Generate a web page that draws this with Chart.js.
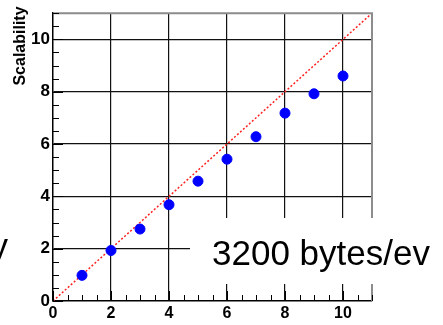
<!DOCTYPE html>
<html><head><meta charset="utf-8">
<script src="https://cdn.jsdelivr.net/npm/chart.js@4"></script>
<style>html,body{margin:0;padding:0;background:#fff}#w{width:443px;height:325px}</style>
</head><body><div id="w"><canvas id="c" width="443" height="325"></canvas></div>
<script>
const nodes = [1, 2, 3, 4, 5, 6, 7, 8, 9, 10];
const scalability = [0.98, 1.93, 2.75, 3.68, 4.58, 5.42, 6.28, 7.18, 7.92, 8.6];
const idealLine = [0, 11];
const tickLabels = [0, 2, 4, 6, 8, 10];
const axisTitle = 'Scalability';
const overlayText = '3200 bytes/ev';

const font = "'Liberation Sans', Arial, sans-serif";
const isMajor = v => tickLabels.includes(Math.round(v * 1000) / 1000);

const extras = {
  id: 'extras',
  afterDraw(chart) {
    const ctx = chart.ctx, a = chart.chartArea;
    const xs = chart.scales.x, ys = chart.scales.y;
    ctx.save();
    ctx.strokeStyle = '#8c8c8c'; ctx.lineWidth = 2;
    ctx.beginPath(); ctx.moveTo(a.left, a.top); ctx.lineTo(a.right, a.top); ctx.lineTo(a.right, a.bottom); ctx.stroke();
    ctx.strokeStyle = '#000'; ctx.lineWidth = 1;
    xs.ticks.forEach(t => {
      const px = Math.round(xs.getPixelForValue(t.value)) + 0.5;
      const len = isMajor(t.value) ? 10 : 6;
      ctx.beginPath(); ctx.moveTo(px, a.bottom); ctx.lineTo(px, a.bottom - len); ctx.stroke();
    });
    ys.ticks.forEach(t => {
      const py = Math.round(ys.getPixelForValue(t.value)) + 0.5;
      const len = isMajor(t.value) ? 10 : 6;
      ctx.beginPath(); ctx.moveTo(a.left, py); ctx.lineTo(a.left + len, py); ctx.stroke();
    });
    ctx.fillStyle = '#000';
    ctx.font = 'bold 16px ' + font;
    ctx.translate(21, 46); ctx.rotate(-Math.PI / 2);
    ctx.textAlign = 'center'; ctx.textBaseline = 'middle';
    ctx.fillText(axisTitle, 0, 0);
    ctx.restore();
    ctx.save();
    ctx.fillStyle = '#fff';
    ctx.fillRect(190, 218, 253, 66);
    ctx.fillStyle = '#000';
    ctx.font = '35px ' + font;
    ctx.textBaseline = 'alphabetic'; ctx.textAlign = 'left';
    ctx.fillText(overlayText, 212, 265);
    ctx.textAlign = 'right';
    ctx.fillText('y', 8, 258);
    ctx.restore();
  }
};

new Chart(document.getElementById('c'), {
  type: 'scatter',
  data: {
    datasets: [
      {
        data: nodes.map((n, i) => ({ x: n, y: scalability[i] })),
        backgroundColor: '#0000ff', borderColor: '#0000ff',
        pointRadius: 5, pointHoverRadius: 5, order: 1
      },
      {
        type: 'line',
        data: idealLine.map(v => ({ x: v, y: v })),
        borderColor: '#ff2020', borderWidth: 1.5, borderDash: [2, 2],
        pointRadius: 0, fill: false, order: 2
      }
    ]
  },
  options: {
    responsive: false, animation: false, events: [],
    layout: { padding: { left: 0, right: 71, top: 5, bottom: 0 } },
    plugins: { legend: { display: false }, tooltip: { enabled: false } },
    scales: {
      x: {
        type: 'linear', min: 0, max: 11,
        afterFit: s => { s.height = 24; },
        border: { color: '#000', width: 1.5 },
        grid: { drawTicks: false, color: c => isMajor(c.tick.value) && c.tick.value > 0 ? '#111' : 'rgba(0,0,0,0)', lineWidth: 1.2 },
        ticks: {
          stepSize: 0.5, padding: 3, autoSkip: false, maxRotation: 0,
          color: '#000', font: { family: font, size: 16, weight: 'bold' },
          callback: v => isMajor(v) ? String(v) : ''
        }
      },
      y: {
        type: 'linear', min: 0, max: 11,
        afterFit: s => { s.width = 53; },
        border: { color: '#000', width: 1.5 },
        grid: { drawTicks: false, color: c => isMajor(c.tick.value) && c.tick.value > 0 ? '#111' : 'rgba(0,0,0,0)', lineWidth: 1.2 },
        ticks: {
          stepSize: 0.5, padding: 3, autoSkip: false,
          color: '#000', font: { family: font, size: 17, weight: 'bold' },
          callback: v => isMajor(v) ? String(v) : ''
        }
      }
    }
  },
  plugins: [extras]
});
</script>
</body></html>
